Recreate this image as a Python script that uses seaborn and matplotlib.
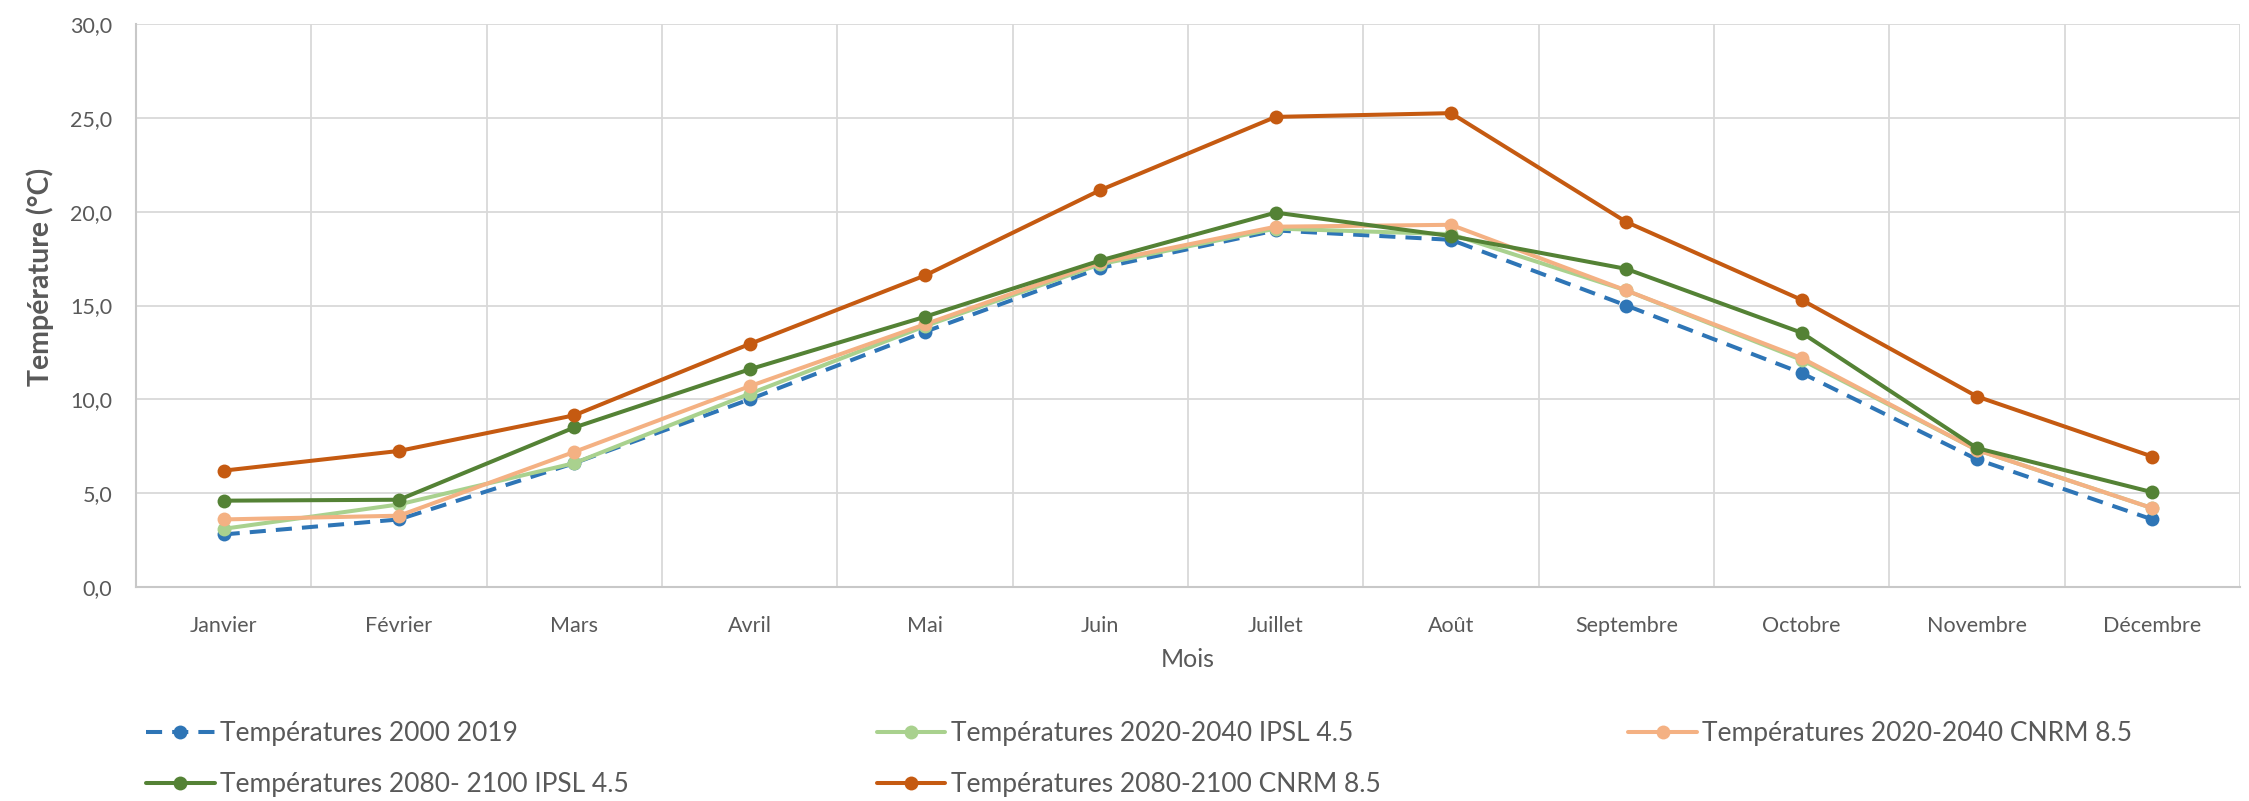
import matplotlib
matplotlib.use("Agg")
import matplotlib.pyplot as plt
import matplotlib.ticker as mticker
import pandas as pd
import seaborn as sns


MOIS = ["Janvier", "Février", "Mars", "Avril", "Mai", "Juin", "Juillet",
        "Août", "Septembre", "Octobre", "Novembre", "Décembre"]

SERIES_NAMES = [
    "Températures 2000 2019",
    "Températures 2020-2040 IPSL 4.5",
    "Températures 2020-2040 CNRM 8.5",
    "Températures 2080- 2100 IPSL 4.5",
    "Températures 2080-2100 CNRM 8.5",
]

temp_2000_2019 = [2.8, 3.6, 6.6, 10.0, 13.6, 17.0, 19.0, 18.5, 15.0, 11.4, 6.8, 3.6]
temp_2020_2040_ipsl = [3.1, 4.4, 6.6, 10.3, 13.9, 17.2, 19.1, 18.8, 15.8, 12.1, 7.3, 4.2]
temp_2020_2040_cnrm = [3.6, 3.8, 7.2, 10.7, 14.0, 17.3, 19.2, 19.3, 15.8, 12.2, 7.3, 4.2]
temp_2080_2100_ipsl = [4.6, 4.65, 8.5, 11.6, 14.4, 17.4, 19.95, 18.7, 16.95, 13.55, 7.4, 5.05]
temp_2080_2100_cnrm = [6.2, 7.25, 9.15, 12.95, 16.6, 21.15, 25.05, 25.25, 19.45, 15.3, 10.15, 6.95]

COLORS = ["#2E75B6", "#A9D18E", "#F4B183", "#548235", "#C55A11"]
TEXT_COLOR = "#595959"
GRID_COLOR = "#D9D9D9"


def build_frame():
    all_values = [temp_2000_2019, temp_2020_2040_ipsl, temp_2020_2040_cnrm,
                  temp_2080_2100_ipsl, temp_2080_2100_cnrm]
    rows = []
    for name, values in zip(SERIES_NAMES, all_values):
        for i, v in enumerate(values):
            rows.append({"mois": i, "temperature": v, "serie": name})
    return pd.DataFrame(rows)


def main():
    df = build_frame()

    sns.set_theme(style="white")
    plt.rcParams["font.family"] = ["Lato", "DejaVu Sans"]

    fig = plt.figure(figsize=(22.49, 8.01), dpi=100)
    ax = fig.add_axes([136 / 2249, 1 - 587 / 801, (2240 - 136) / 2249, (587 - 24) / 801])

    palette = dict(zip(SERIES_NAMES, COLORS))
    dashes = {name: "" for name in SERIES_NAMES}
    dashes[SERIES_NAMES[0]] = (4, 2.5)
    markers = {name: "o" for name in SERIES_NAMES}

    sns.lineplot(
        data=df,
        x="mois",
        y="temperature",
        hue="serie",
        style="serie",
        hue_order=SERIES_NAMES,
        style_order=SERIES_NAMES,
        palette=palette,
        dashes=dashes,
        markers=markers,
        markersize=10,
        markeredgewidth=0,
        linewidth=2.9,
        sort=False,
        ax=ax,
    )

    handles, labels = ax.get_legend_handles_labels()
    ax.get_legend().remove()
    order = [0, 3, 1, 4, 2]
    fig.legend(
        [handles[i] for i in order],
        [labels[i] for i in order],
        loc="upper left",
        bbox_to_anchor=(146 / 2249, 1 - 721 / 801),
        ncol=3,
        frameon=False,
        fontsize=19,
        labelcolor=TEXT_COLOR,
        handlelength=2.6,
        handletextpad=0.2,
        columnspacing=9.4,
        labelspacing=1.0,
        borderpad=0,
        borderaxespad=0,
    )

    ax.set_xlim(-0.5, 11.5)
    ax.set_ylim(0, 30)
    ax.set_xticks(range(len(MOIS)))
    ax.set_xticklabels(MOIS)
    ax.xaxis.set_minor_locator(mticker.FixedLocator([i - 0.5 for i in range(13)]))
    ax.yaxis.set_major_locator(mticker.MultipleLocator(5))
    ax.yaxis.set_major_formatter(
        mticker.FuncFormatter(lambda v, _: f"{v:.1f}".replace(".", ","))
    )

    ax.grid(False)
    ax.grid(which="minor", axis="x", color=GRID_COLOR, linewidth=1.3)
    ax.grid(which="major", axis="y", color=GRID_COLOR, linewidth=1.3)
    ax.set_axisbelow(True)

    ax.tick_params(axis="both", which="both", length=0, labelsize=15.5, labelcolor=TEXT_COLOR)
    ax.tick_params(axis="x", pad=21)
    ax.tick_params(axis="y", pad=17)

    for side in ["top", "right"]:
        ax.spines[side].set_visible(False)
    for side in ["left", "bottom"]:
        ax.spines[side].set_color("#C8C8C8")
        ax.spines[side].set_linewidth(1.5)

    ax.set_xlabel("Mois", fontsize=18, color=TEXT_COLOR)
    ax.xaxis.set_label_coords(0.5, -0.108)
    ax.set_ylabel("Température (°C)", fontsize=20.5, fontweight="bold", color=TEXT_COLOR)
    ax.yaxis.set_label_coords(-0.039, 0.55)

    fig.savefig("out.png", dpi=100)
    plt.close(fig)


if __name__ == "__main__":
    main()
